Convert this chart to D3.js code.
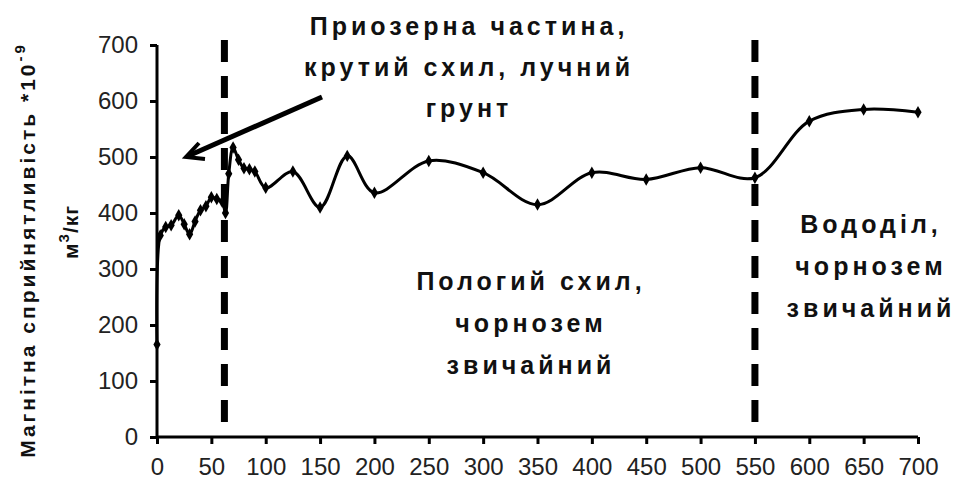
<!DOCTYPE html>
<html><head><meta charset="utf-8">
<script src="https://cdn.jsdelivr.net/npm/d3@7"></script>
<style>body{margin:0;background:#fff}svg{display:block}text{font-family:"Liberation Sans",Arial,sans-serif}</style>
</head><body><svg id="c" width="955" height="488"></svg>
<script>
const distances = [0,3,8,13,20,25,30,35,40,45,50,55,60,63,66,70,75,80,85,90,100,125,150,175,200,250,300,350,400,450,500,550,600,650,700];
const values    = [165,360,375,378,396,380,362,385,405,412,428,425,420,400,470,517,495,480,478,474,445,474,410,502,436,493,472,415,472,460,481,463,564,585,580];
const xTicks = [0,50,100,150,200,250,300,350,400,450,500,550,600,650,700];
const yTicks = [0,100,200,300,400,500,600,700];
const boundaries = [62,550];
const yLabel = "Магнітна сприйнятливість *10";
const yLabelSup = "-9";
const yUnit = "м";
const yUnitSup = "3";
const yUnitTail = "/кг";
const zone1 = ["Приозерна частина,","крутий схил, лучний","грунт"];
const zone2 = ["Пологий схил,","чорнозем","звичайний"];
const zone3 = ["Вододіл,","чорнозем","звичайний"];

const svg = d3.select("#c");
const x = d3.scaleLinear().domain([0,700]).range([157,918]);
const y = d3.scaleLinear().domain([0,700]).range([437,45]);

// boundaries
svg.selectAll("line.b").data(boundaries).join("line")
  .attr("x1",d=>x(d)).attr("x2",d=>x(d)).attr("y1",40).attr("y2",437)
  .attr("stroke","#000").attr("stroke-width",7).attr("stroke-dasharray","22,14");

// axes
const ya = svg.append("g").attr("transform","translate(157,0)")
  .call(d3.axisLeft(y).tickValues(yTicks).tickSize(7).tickPadding(12).tickFormat(d3.format("d")));
const xa = svg.append("g").attr("transform","translate(0,437)")
  .call(d3.axisBottom(x).tickValues(xTicks).tickSize(7).tickPadding(14).tickFormat(d3.format("d")));
[ya,xa].forEach(g=>{
  g.select(".domain").attr("stroke","#000").attr("stroke-width",3);
  g.selectAll(".tick line").attr("stroke","#000").attr("stroke-width",3);
  g.selectAll(".tick text").attr("font-size",24).attr("fill","#222")
   .attr("font-family","'Liberation Sans',Arial,sans-serif");
});
ya.select(".domain").attr("d","M0,437V45");
xa.select(".domain").attr("d","M157,0H918");

// curve
const pts = distances.map((d,i)=>[d,values[i]]);
svg.append("path").datum(pts)
  .attr("d",d3.line().x(d=>x(d[0])).y(d=>y(d[1])).curve(d3.curveCatmullRom.alpha(0.5)))
  .attr("fill","none").attr("stroke","#000").attr("stroke-width",3);
svg.selectAll("path.m").data(pts).join("path")
  .attr("transform",d=>`translate(${x(d[0])},${y(d[1])})`)
  .attr("d",d3.symbol(d3.symbolDiamond,45)).attr("fill","#000");

// arrow
svg.append("path").attr("d","M322,97L188,156").attr("stroke","#000").attr("stroke-width",5).attr("fill","none");
svg.append("path").attr("d","M199,143L186,157L205,159").attr("stroke","#000").attr("stroke-width",4).attr("fill","none");

// zone texts
function block(lines,cx,y0,dy){
  const t = svg.append("text").attr("text-anchor","middle").attr("font-size",25).attr("font-weight","bold")
    .attr("letter-spacing","4px").attr("fill","#111");
  lines.forEach((l,i)=>t.append("tspan").attr("x",cx+2).attr("y",y0+i*dy).text(l));
}
block(zone1,467,35,41);
block(zone2,529,290,42);
block(zone3,869,233,42);

// y label
const yl = svg.append("text").attr("transform","translate(35,250) rotate(-90)")
  .attr("text-anchor","middle").attr("font-size",21).attr("font-weight","bold").attr("fill","#111")
  .attr("letter-spacing","3px");
yl.append("tspan").text(yLabel);
yl.append("tspan").attr("dy",-10).attr("font-size",15).text(yLabelSup);
const yu = svg.append("text").attr("transform","translate(78,232) rotate(-90)")
  .attr("text-anchor","middle").attr("font-size",21).attr("font-weight","bold").attr("fill","#111")
  .attr("letter-spacing","1px");
yu.append("tspan").text(yUnit);
yu.append("tspan").attr("dy",-9).attr("font-size",15).text(yUnitSup);
yu.append("tspan").attr("dy",9).text(yUnitTail);
</script></body></html>
